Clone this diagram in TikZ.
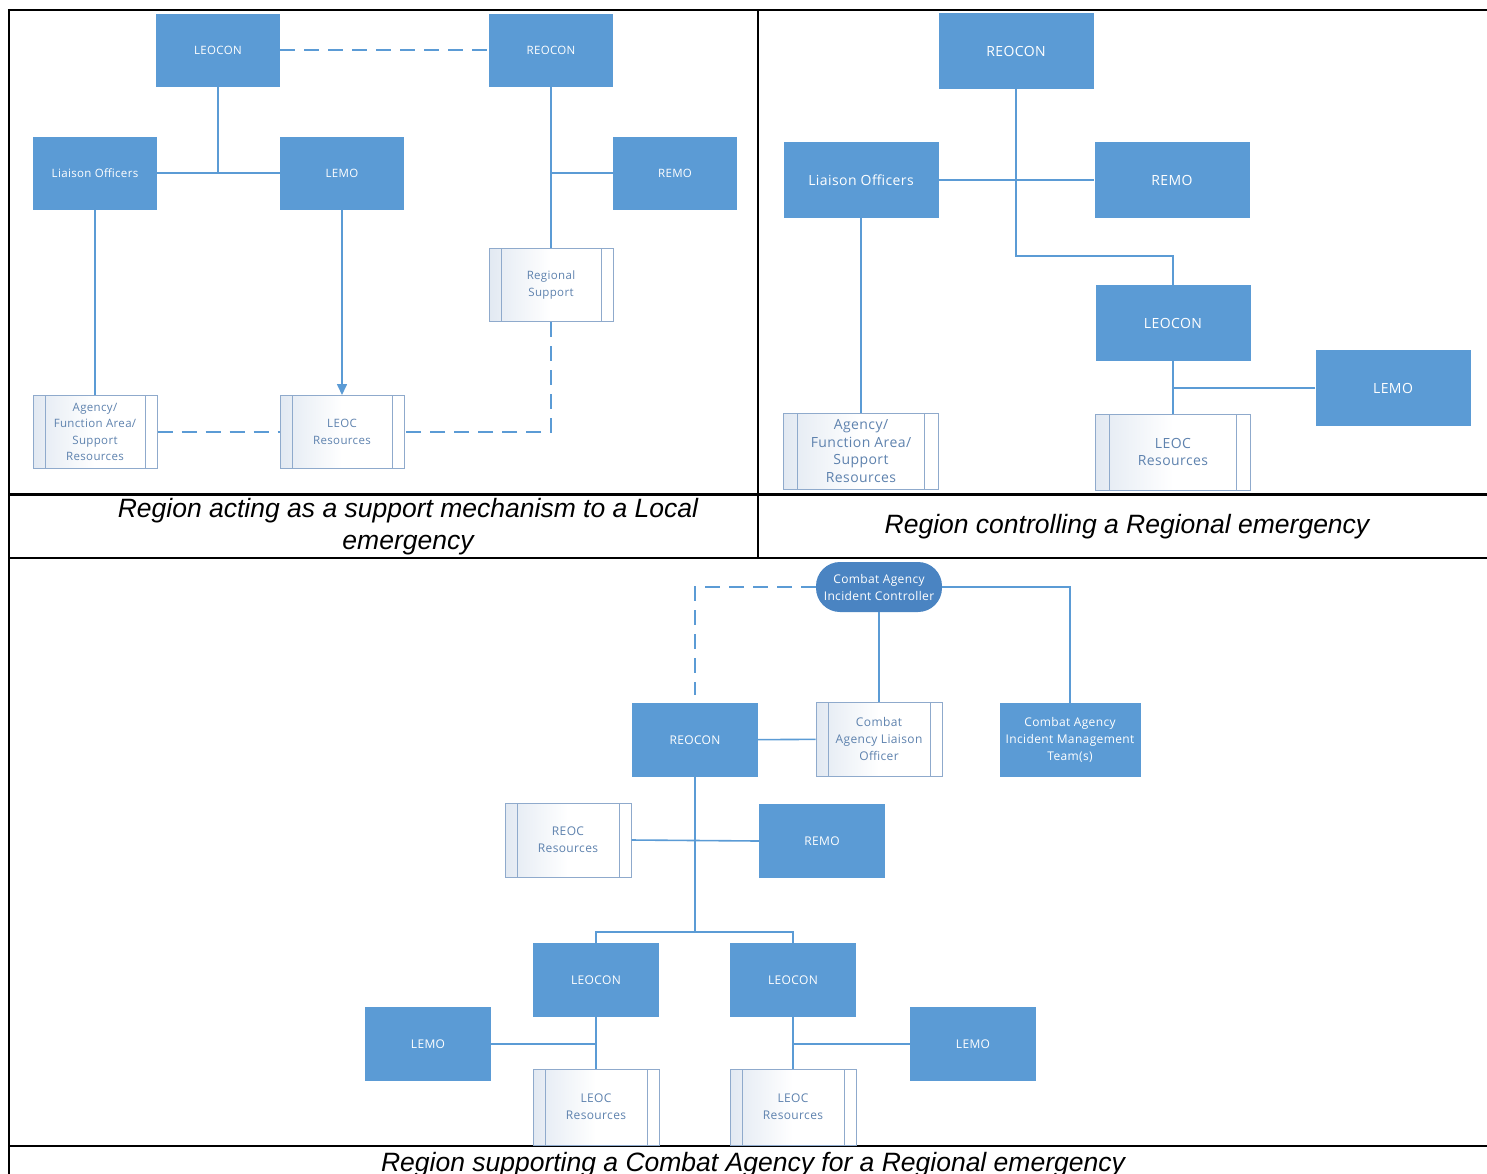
\documentclass[tikz,border=0pt]{standalone}
\usepackage{fontspec}
\usetikzlibrary{arrows.meta,calc}
\newfontfamily\capfont{Liberation Sans}
\newfontfamily\bxfont[LetterSpace=3]{Open Sans}
\definecolor{boxblue}{HTML}{5B9BD5}
\definecolor{lineblue}{HTML}{5B9BD5}
\definecolor{pillblue}{HTML}{4A84C2}
\definecolor{paletext}{HTML}{5E82AE}
\definecolor{paleline}{HTML}{8FAACC}
\definecolor{palegrad}{HTML}{E2E9F2}
\tikzset{
  bbox/.style={rectangle, fill=boxblue, text=white, draw=none, align=center, inner sep=2pt},
  pbox/.style={rectangle, left color=palegrad, right color=white, middle color=white, draw=paleline, line width=1pt, text=paletext, align=center, inner sep=2pt,
    path picture={
      \draw[paleline, line width=1pt] ([xshift=#1]path picture bounding box.north west) -- ([xshift=#1]path picture bounding box.south west);
      \draw[paleline, line width=1pt] ([xshift=-#1]path picture bounding box.north east) -- ([xshift=-#1]path picture bounding box.south east);}},
  pbox/.default=12pt,
  pill/.style={rectangle, rounded corners=24pt, fill=pillblue, text=white, align=center, inner sep=2pt},
  conn/.style={draw=lineblue, line width=1.6pt},
  dconn/.style={conn, dash pattern=on 15pt off 9pt},
  tline/.style={line width=2.5pt, black},
  capt/.style={font=\capfont\itshape\fontsize{26.5}{32}\selectfont, align=center, inner sep=0pt},
  fa/.style={font=\bxfont\fontsize{11.5}{16.5}\selectfont, minimum width=124pt, minimum height=73pt},
  fb/.style={font=\bxfont\fontsize{14}{17.5}\selectfont, minimum width=155pt, minimum height=76pt},
  fc/.style={font=\bxfont\fontsize{12}{17}\selectfont, minimum width=126pt, minimum height=74pt},
}
\begin{document}
\begin{tikzpicture}[x=1pt, y=-1pt]
\useasboundingbox (0,0) rectangle (1487,1173);
% ---------- table ----------
\draw[tline] (7.75,10) -- (1490,10);
\draw[tline] (9,8.75) -- (9,1180);
\draw[tline] (758,10) -- (758,558);
\draw[tline] (9,494.5) -- (1490,494.5);
\draw[tline] (9,558) -- (1490,558);
\draw[tline] (9,1146) -- (1490,1146);
% ---------- captions ----------
\node[capt] (cap1) at (408,527) {Region acting as a support mechanism to a Local\\emergency};
\node[capt] (cap2) at (1127,527) {Region controlling a Regional emergency};
\node[capt, anchor=base] (cap3) at (753,1171) {Region supporting a Combat Agency for a Regional emergency};
% ---------- panel 1 ----------
\node[bbox, fa] (a-leocon) at (218,50) {LEOCON};
\node[bbox, fa] (a-reocon) at (551,50) {REOCON};
\node[bbox, fa] (a-lo) at (95,173) {Liaison Officers};
\node[bbox, fa] (a-lemo) at (342,173) {LEMO};
\node[bbox, fa] (a-remo) at (675,173) {REMO};
\node[pbox, fa] (a-regsup) at (551,285) {Regional\\Support};
\node[pbox, fa] (a-agency) at (95,432) {Agency/\\Function Area/\\Support\\Resources};
\node[pbox, fa] (a-leocres) at (342,432) {LEOC\\Resources};
\draw[dconn] (a-leocon) -- (a-reocon);
\draw[conn] (a-leocon.south) -- (a-leocon.south |- a-lo.east);
\draw[conn] (a-lo) -- (a-lemo);
\draw[conn] (a-lo) -- (a-agency);
\draw[conn, -{Triangle[length=11pt,width=10pt]}] (a-lemo) -- (a-leocres);
\draw[conn] (a-reocon) -- (a-regsup);
\draw[conn] (a-remo.west) -- (a-remo.west -| a-reocon.south);
\draw[dconn] (a-regsup.south) |- (a-leocres.east);
\draw[dconn] (a-agency) -- (a-leocres);
% ---------- panel 2 ----------
\node[bbox, fb] (b-reocon) at (1016,51) {REOCON};
\node[bbox, fb] (b-lo) at (861,180) {Liaison Officers};
\node[bbox, fb] (b-remo) at (1172,180) {REMO};
\node[bbox, fb] (b-leocon) at (1173,323) {LEOCON};
\node[bbox, fb] (b-lemo) at (1393,388) {LEMO};
\node[pbox=14pt, fb] (b-agency) at (861,451) {Agency/\\Function Area/\\Support\\Resources};
\node[pbox=14pt, fb] (b-leocres) at (1173,452) {LEOC\\Resources};
\coordinate (b-j1) at (1016,256);
\draw[conn] (b-reocon.south) -- (b-j1) -| (b-leocon.north);
\draw[conn] (b-lo) -- (b-remo);
\draw[conn] (b-lo) -- (b-agency);
\draw[conn] (b-leocon) -- (b-leocres);
\draw[conn] (b-lemo.west) -- (b-lemo.west -| b-leocon.south);
% ---------- panel 3 ----------
\node[pill, font=\bxfont\fontsize{12}{17}\selectfont, minimum width=126pt, minimum height=50pt] (c-ctrl) at (879,587) {Combat Agency\\Incident Controller};
\node[bbox, fc] (c-reocon) at (695,740) {REOCON};
\node[pbox, fc] (c-calo) at (879,739) {Combat\\Agency Liaison\\Officer};
\node[bbox, fc, minimum width=141pt] (c-imt) at (1070,740) {Combat Agency\\Incident Management\\Team(s)};
\node[pbox, fc] (c-reocres) at (568,840) {REOC\\Resources};
\node[bbox, fc] (c-remo) at (822,841) {REMO};
\node[bbox, fc] (c-leocon1) at (596,980) {LEOCON};
\node[bbox, fc] (c-leocon2) at (793,980) {LEOCON};
\node[bbox, fc] (c-lemo1) at (428,1044) {LEMO};
\node[bbox, fc] (c-lemo2) at (973,1044) {LEMO};
\node[pbox, fc, minimum height=76pt] (c-leocres1) at (596,1107) {LEOC\\Resources};
\node[pbox, fc, minimum height=76pt] (c-leocres2) at (793,1107) {LEOC\\Resources};
\draw[dconn, shorten >=8pt] (c-ctrl.west) -| (c-reocon.north);
\draw[conn] (c-ctrl) -- (c-calo);
\draw[conn] (c-ctrl.east) -| (c-imt.north);
\draw[conn] (c-reocon) -- (c-calo);
\coordinate (c-j) at (695,932);
\draw[conn] (c-reocon.south) -- (c-j);
\draw[conn] (c-j) -| (c-leocon1.north);
\draw[conn] (c-j) -| (c-leocon2.north);
\draw[conn] (c-reocres.east) -- (c-remo.west);
\draw[conn] (c-leocon1) -- (c-leocres1);
\draw[conn] (c-leocon2) -- (c-leocres2);
\draw[conn] (c-lemo1.east) -- (c-lemo1.east -| c-leocon1.south);
\draw[conn] (c-lemo2.west) -- (c-lemo2.west -| c-leocon2.south);
\end{tikzpicture}
\end{document}
